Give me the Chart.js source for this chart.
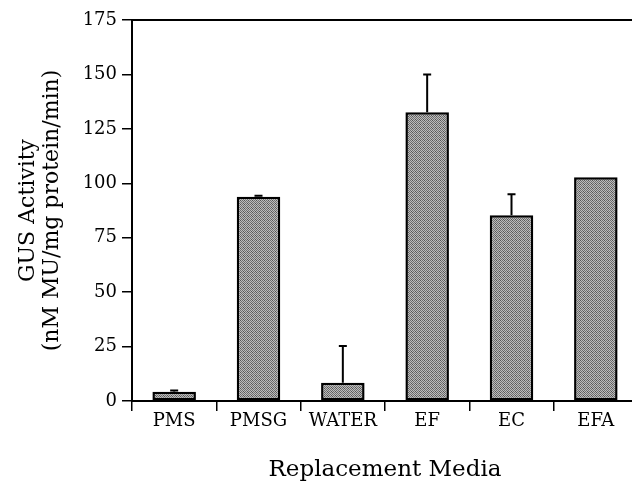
<!DOCTYPE html>
<html>
<head>
<meta charset="utf-8">
<script src="https://cdn.jsdelivr.net/npm/chart.js@4.4.1/dist/chart.umd.min.js"></script>
<style>
  html, body { margin: 0; padding: 0; background: #ffffff; overflow: hidden; width: 632px; height: 482px; }
  canvas { display: block; }
</style>
</head>
<body>
<canvas id="c" width="640" height="482"></canvas>
<script>
const categories = ["PMS", "PMSG", "WATER", "EF", "EC", "EFA"];
const gusActivity = [4.3, 93.8, 8.4, 132.6, 85.3, 102.8];
const gusError = [0.5, 0.5, 16.9, 17.4, 9.7, 0];
const yTickValues = [0, 25, 50, 75, 100, 125, 150, 175];

const FONT = "'DejaVu Serif', 'Liberation Serif', serif";

// stippled grey fill
const pc = document.createElement('canvas');
pc.width = 4; pc.height = 4;
const pctx = pc.getContext('2d');
pctx.fillStyle = '#bcbcbc';
pctx.fillRect(0, 0, 4, 4);
pctx.fillStyle = '#6e6e6e';
[[0,0],[2,0],[1,1],[3,1],[0,2],[2,2],[1,3],[3,3]].forEach(([x,y]) => pctx.fillRect(x, y, 1, 1));
pctx.fillStyle = '#555555';
[[0,0],[3,3]].forEach(([x,y]) => pctx.fillRect(x, y, 1, 1));
const ctx = document.getElementById('c').getContext('2d');
const stipple = ctx.createPattern(pc, 'repeat');

const errorBars = {
  id: 'errorBars',
  afterDatasetsDraw(chart) {
    const meta = chart.getDatasetMeta(0);
    const y = chart.scales.y;
    const c = chart.ctx;
    c.save();
    c.strokeStyle = '#000';
    c.lineWidth = 2;
    meta.data.forEach((bar, i) => {
      const err = gusError[i];
      if (!err) return;
      const y0 = y.getPixelForValue(gusActivity[i]);
      const y1 = y.getPixelForValue(gusActivity[i] + err);
      c.beginPath();
      c.moveTo(bar.x, y0);
      c.lineTo(bar.x, y1);
      c.moveTo(bar.x - 4, y1);
      c.lineTo(bar.x + 4, y1);
      c.stroke();
    });
    c.restore();
  }
};

new Chart(ctx, {
  type: 'bar',
  data: {
    labels: categories,
    datasets: [{
      data: gusActivity,
      backgroundColor: stipple,
      borderColor: '#000',
      borderWidth: 2.5,
      borderSkipped: false,
      barPercentage: 0.516,
      categoryPercentage: 1.0
    }]
  },
  options: {
    responsive: false,
    animation: false,
    devicePixelRatio: 1,
    layout: { padding: { top: 20, right: 2, left: 0, bottom: 0 } },
    plugins: { legend: { display: false }, tooltip: { enabled: false } },
    scales: {
      x: {
        position: 'bottom',
        grid: { display: true, offset: true, drawOnChartArea: false, drawTicks: true, tickLength: 10, color: '#000', lineWidth: 1.5 },
        border: { display: true, color: '#000', width: 2 },
        ticks: { color: '#000', font: { family: FONT, size: 18 }, padding: 0, autoSkip: false, maxRotation: 0 },
        title: { display: true, text: 'Replacement Media', color: '#000', font: { family: FONT, size: 23, lineHeight: 1 }, padding: { top: 0, bottom: 0 } },
        afterFit(scale) { scale.height = 81; }
      },
      xTop: {
        type: 'category',
        position: 'top',
        grid: { display: true, drawOnChartArea: false, drawTicks: false },
        border: { display: true, color: '#000', width: 2 },
        ticks: { display: false },
        afterFit(scale) { scale.height = 0; }
      },
      y: {
        position: 'left',
        min: 0,
        max: 175,
        afterBuildTicks(scale) { scale.ticks = yTickValues.map(v => ({ value: v })); },
        grid: { display: true, drawOnChartArea: false, drawTicks: true, tickLength: 10, color: '#000', lineWidth: 1.5 },
        border: { display: true, color: '#000', width: 2 },
        ticks: { color: '#000', font: { family: FONT, size: 18 }, padding: 5 },
        title: { display: true, text: ['GUS Activity', '(nM MU/mg protein/min)'], color: '#000', font: { family: FONT, size: 22, lineHeight: 1.09 }, padding: { top: 16, bottom: 0 } },
        afterFit(scale) { scale.width = 132; }
      }
    }
  },
  plugins: [errorBars]
});
</script>
</body>
</html>
